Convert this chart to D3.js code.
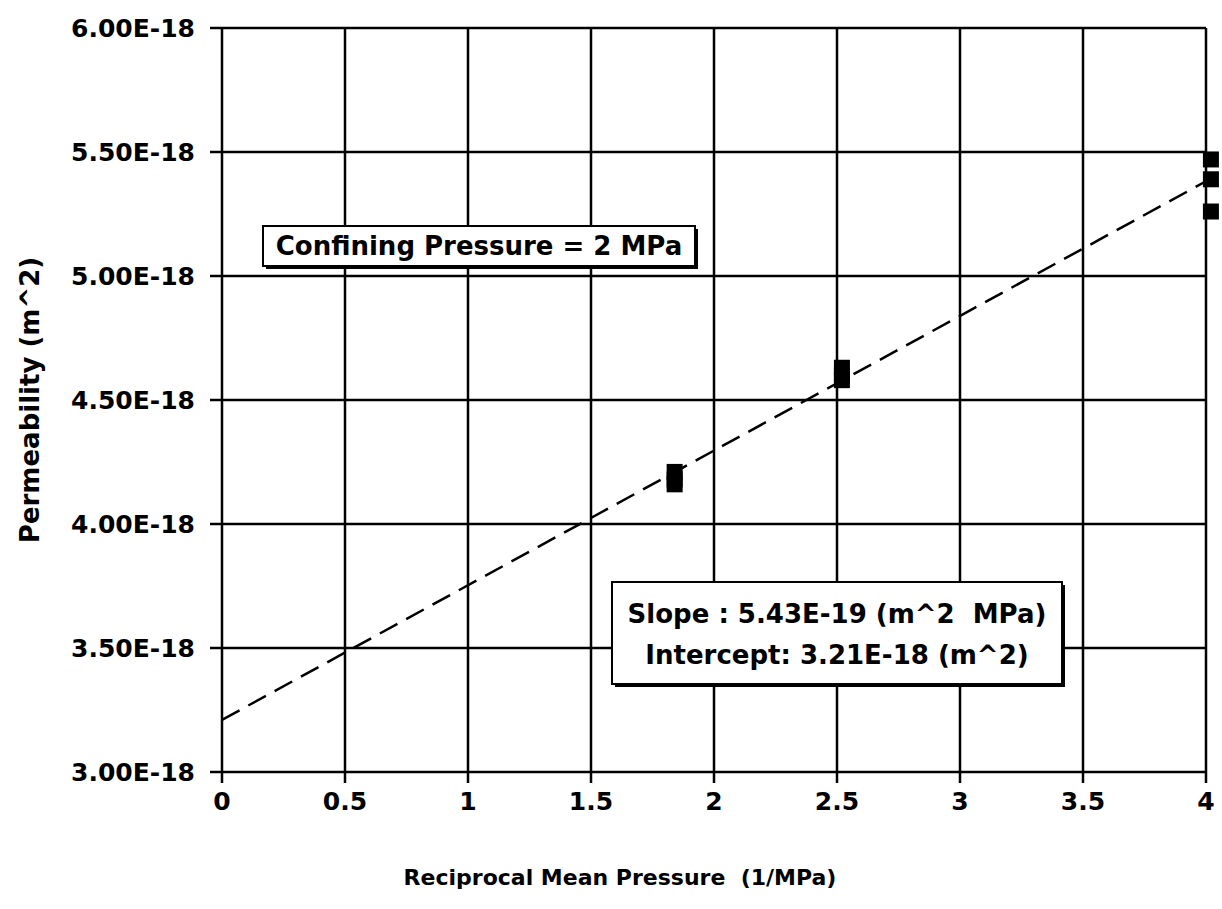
<!DOCTYPE html>
<html lang="en">
<head>
<meta charset="utf-8">
<style type="text/css">
    body { margin: 0; background: #fff; }
    text { font-family: "DejaVu Sans", sans-serif; font-weight: bold; fill: #000; white-space: pre; }
    .grid { stroke: #000; stroke-width: 2.5px; }
</style>
</head>
<body>
<script src="https://cdnjs.cloudflare.com/ajax/libs/d3/7.8.5/d3.min.js"></script>
<script type="text/javascript">
    // measured points (x = 1/MPa, y = m^2)
    var recipPressure = [1.84, 1.84, 1.84, 2.52, 2.52, 2.52, 4.02, 4.02, 4.02];
    var permeability = [4.21e-18, 4.18e-18, 4.16e-18, 4.63e-18, 4.60e-18, 4.58e-18, 5.47e-18, 5.39e-18, 5.26e-18];

    var xTicks = [0, 0.5, 1, 1.5, 2, 2.5, 3, 3.5, 4];
    var yTicks = [3.0e-18, 3.5e-18, 4.0e-18, 4.5e-18, 5.0e-18, 5.5e-18, 6.0e-18];

    var slope = 5.43e-19;
    var intercept = 3.21e-18;
    var fitRange = [0, 4];

    var width = 1222, height = 909;
    var plotLeft = 222, plotRight = 1206, plotTop = 28, plotBottom = 772;

    var svg = d3.select("body").append("svg")
        .attr("width", width)
        .attr("height", height);

    var x = d3.scaleLinear().domain([0, 4]).range([plotLeft, plotRight]);
    var y = d3.scaleLinear().domain([3e-18, 6e-18]).range([plotBottom, plotTop]);

    // grid lines (with short ticks outside the plot)
    svg.selectAll(".hgrid").data(yTicks).enter().append("line")
        .attr("class", "grid")
        .attr("x1", plotLeft - 12).attr("x2", plotRight)
        .attr("y1", function (d) { return y(d); })
        .attr("y2", function (d) { return y(d); });

    svg.selectAll(".vgrid").data(xTicks).enter().append("line")
        .attr("class", "grid")
        .attr("y1", plotTop).attr("y2", plotBottom + 11)
        .attr("x1", function (d) { return x(d); })
        .attr("x2", function (d) { return x(d); });

    // tick labels
    svg.selectAll(".ylab").data(yTicks).enter().append("text")
        .attr("x", plotLeft - 27)
        .attr("y", function (d) { return y(d); })
        .attr("dy", "0.36em")
        .attr("text-anchor", "end")
        .attr("font-size", 25)
        .text(function (d) { return (d / 1e-18).toFixed(2) + "E-18"; });

    svg.selectAll(".xlab").data(xTicks).enter().append("text")
        .attr("x", function (d) { return x(d); })
        .attr("y", plotBottom + 38)
        .attr("text-anchor", "middle")
        .attr("font-size", 25)
        .text(function (d) { return d; });

    // axis titles
    svg.append("text")
        .attr("x", 620).attr("y", 885)
        .attr("text-anchor", "middle")
        .attr("font-size", 22)
        .text("Reciprocal Mean Pressure  (1/MPa)");

    svg.append("text")
        .attr("transform", "translate(39," + 400 + ") rotate(-90)")
        .attr("text-anchor", "middle")
        .attr("font-size", 26)
        .text("Permeability (m^2)");

    // fitted line
    svg.append("line")
        .attr("x1", x(fitRange[0])).attr("y1", y(intercept + slope * fitRange[0]))
        .attr("x2", x(fitRange[1])).attr("y2", y(intercept + slope * fitRange[1]))
        .attr("stroke", "#000")
        .attr("stroke-width", 2.5)
        .attr("stroke-dasharray", "20,10");

    // data squares
    var pts = recipPressure.map(function (v, i) { return [v, permeability[i]]; });
    svg.selectAll(".pt").data(pts).enter().append("rect")
        .attr("x", function (d) { return x(d[0]) - 8; })
        .attr("y", function (d) { return y(d[1]) - 8; })
        .attr("width", 16).attr("height", 16)
        .attr("fill", "#000");

    // text boxes
    function labelBox(bx, by, bw, bh, lines, lineY) {
        svg.append("rect")
            .attr("x", bx + 3).attr("y", by + 3)
            .attr("width", bw).attr("height", bh)
            .attr("fill", "#000");
        svg.append("rect")
            .attr("x", bx).attr("y", by)
            .attr("width", bw).attr("height", bh)
            .attr("fill", "#fff")
            .attr("stroke", "#000")
            .attr("stroke-width", 2);
        svg.selectAll(null).data(lines).enter().append("text")
            .attr("x", bx + bw / 2)
            .attr("y", function (d, i) { return lineY[i]; })
            .attr("text-anchor", "middle")
            .attr("font-size", 26)
            .text(function (d) { return d; });
    }

    labelBox(263, 226, 432, 40, ["Confining Pressure = 2 MPa"], [255]);
    labelBox(612, 582, 450, 102,
        ["Slope : 5.43E-19 (m^2  MPa)", "Intercept: 3.21E-18 (m^2)"], [623, 664]);
</script>
</body>
</html>
